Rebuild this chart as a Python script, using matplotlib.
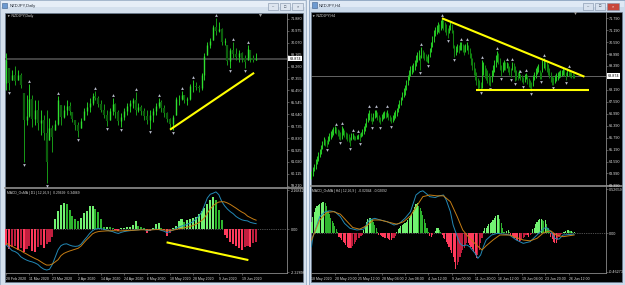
import numpy as np
import matplotlib.pyplot as plt
from matplotlib.patches import Rectangle
from matplotlib.transforms import offset_copy

plt.rcParams['font.family'] = ['Liberation Sans', 'DejaVu Sans']

# ---------------- NZDJPY, Daily (28 Feb 2020 .. 30 Jun 2020) ----------------
d1_high = [69.30, 68.17, 68.01, 68.32, 68.01, 67.79, 66.27, 66.12, 66.95, 66.12,
           65.74, 65.74, 64.98, 64.60, 64.98, 64.38, 63.85, 64.22, 66.04, 65.36,
           65.36, 65.74, 65.59, 64.83, 64.22, 64.07, 64.38, 65.13, 65.59, 65.89,
           66.27, 66.42, 66.04, 65.74, 65.44, 64.98, 65.13, 65.89, 65.51, 64.98,
           64.75, 65.13, 65.51, 65.74, 65.89, 66.35, 65.51, 65.36, 65.13, 64.98,
           64.98, 65.13, 65.51, 65.89, 65.74, 65.36, 64.83, 64.38, 64.60, 65.97,
           66.12, 66.42, 66.12, 65.97, 66.95, 67.26, 67.10, 66.88, 67.79, 69.30,
           70.14, 70.44, 71.43, 71.96, 71.65, 71.20, 70.44, 69.91, 69.68, 70.14,
           69.68, 69.53, 69.38, 69.15, 69.91, 69.53, 69.15, 69.30]
d1_low = [66.50, 66.50, 67.26, 66.88, 67.26, 66.65, 61.04, 63.85, 64.45, 63.69,
          63.85, 63.47, 63.09, 62.71, 59.45, 62.71, 61.80, 63.47, 63.85, 63.85,
          64.38, 64.60, 64.60, 64.07, 63.47, 62.94, 63.62, 64.22, 64.60, 64.83,
          65.36, 65.74, 65.21, 64.83, 64.38, 63.77, 64.22, 64.60, 64.38, 63.85,
          63.69, 64.22, 64.60, 64.83, 65.13, 64.60, 64.83, 64.60, 64.22, 63.92,
          63.54, 64.07, 64.60, 65.13, 64.83, 64.45, 64.07, 63.62, 63.47, 64.60,
          65.36, 65.74, 65.51, 65.36, 65.74, 66.35, 66.50, 66.35, 66.50, 67.26,
          69.15, 69.68, 70.29, 70.67, 70.89, 69.91, 69.91, 68.39, 68.17, 68.92,
          68.77, 68.62, 68.62, 68.17, 68.77, 68.62, 68.62, 68.77]
d1_close = [68.80, 67.00, 67.60, 67.20, 67.60, 66.90, 64.20, 64.50, 65.80, 64.30,
            65.00, 64.00, 64.20, 63.20, 61.00, 63.60, 62.90, 63.90, 65.70, 64.40,
            65.00, 65.30, 64.90, 64.30, 63.80, 63.40, 64.10, 64.90, 65.20, 65.50,
            66.00, 65.90, 65.40, 65.00, 64.60, 64.10, 64.90, 65.40, 64.80, 64.10,
            64.40, 64.90, 65.30, 65.50, 65.70, 65.00, 65.20, 64.90, 64.50, 64.20,
            64.60, 64.90, 65.30, 65.60, 65.10, 64.70, 64.30, 63.90, 64.40, 65.80,
            65.80, 66.10, 65.70, 65.80, 66.80, 66.80, 66.70, 66.60, 67.60, 69.10,
            69.90, 70.20, 71.30, 71.00, 71.10, 70.10, 70.20, 68.70, 69.50, 69.20,
            69.00, 69.30, 68.90, 68.60, 69.60, 68.90, 68.80, 68.87]
d1_first_open = 67.00
d1_frac_up = [8, 18, 31, 37, 45, 53, 61, 65, 73, 79, 84]
d1_frac_dn = [1, 6, 14, 25, 35, 40, 50, 58, 78, 83]

d1_osma = [-0.85, -1.05, -0.95, -0.90, -1.10, -1.00, -1.20, -1.05, -0.90, -1.15,
           -1.20, -0.95, -0.85, -1.00, -0.80, -0.70, -0.40, 0.54, 1.01, 1.30,
           1.42, 1.35, 1.05, 0.72, 0.56, 0.45, 0.62, 0.90, 0.98, 1.26,
           1.28, 1.12, 0.95, 0.55, 0.11, 0.14, 0.11, 0.08, -0.05, -0.08,
           0.05, 0.06, 0.14, 0.14, 0.23, 0.45, 0.20, 0.11, 0.05, -0.22,
           -0.08, 0.05, 0.30, 0.32, 0.08, -0.05, -0.36, -0.20, 0.05, 0.20,
           0.47, 0.54, 0.41, 0.50, 0.54, 0.62, 0.68, 0.86, 0.99, 1.17,
           1.40, 1.60, 1.73, 1.58, 1.04, 0.50, -0.31, -0.49, -0.67, -0.80,
           -0.90, -1.00, -1.12, -0.94, -0.88, -0.94, -0.76, -0.70]
d1_macd = [-0.85, -1.00, -1.15, -1.20, -1.30, -1.48, -1.58, -1.66, -1.72, -1.76,
           -1.82, -1.90, -2.05, -2.15, -2.20, -2.16, -1.90, -1.50, -1.10, -0.88,
           -0.80, -0.78, -0.85, -0.90, -0.92, -0.90, -0.80, -0.60, -0.42, -0.22,
           -0.07, 0.02, 0.05, 0.04, 0.00, -0.04, -0.08, -0.12, -0.18, -0.22,
           -0.16, -0.12, -0.09, -0.07, -0.05, -0.03, -0.02, 0.00, 0.00, -0.07,
           -0.04, 0.00, 0.02, 0.00, -0.05, -0.10, -0.18, -0.10, -0.04, 0.05,
           0.12, 0.18, 0.22, 0.28, 0.34, 0.42, 0.55, 0.72, 0.92, 1.30,
           1.70, 1.90, 1.96, 2.03, 1.88, 1.52, 1.28, 1.10, 0.96, 0.85,
           0.70, 0.60, 0.52, 0.48, 0.46, 0.38, 0.34, 0.31]
d1_signal = [-0.76, -0.84, -0.92, -1.00, -1.08, -1.15, -1.25, -1.33, -1.42, -1.50,
             -1.58, -1.65, -1.75, -1.85, -1.93, -1.93, -1.87, -1.76, -1.64, -1.42,
             -1.30, -1.23, -1.17, -1.12, -1.07, -1.02, -0.90, -0.72, -0.55, -0.40,
             -0.24, -0.16, -0.12, -0.10, -0.09, -0.08, -0.08, -0.07, -0.07, -0.08,
             -0.08, -0.07, -0.06, -0.05, -0.05, -0.04, -0.03, -0.02, -0.02, -0.03,
             -0.03, -0.02, -0.01, -0.01, -0.02, -0.03, -0.05, -0.05, -0.04, -0.01,
             0.03, 0.06, 0.09, 0.12, 0.16, 0.21, 0.28, 0.36, 0.48, 0.62,
             0.88, 1.10, 1.28, 1.40, 1.48, 1.50, 1.49, 1.43, 1.35, 1.25,
             1.15, 1.04, 0.94, 0.86, 0.72, 0.64, 0.56, 0.50]

d1_dates = ['28 Feb 2020', '11 Mar 2020', '23 Mar 2020', '2 Apr 2020', '14 Apr 2020',
            '24 Apr 2020', '6 May 2020', '18 May 2020', '28 May 2020', '9 Jun 2020',
            '19 Jun 2020']
d1_date_pos = [0, 8, 16, 25, 33, 41, 49, 57, 65, 74, 82]
d1_price_ticks = [71.880, 70.975, 70.070, 69.165, 68.260, 67.355, 66.450, 65.545,
                  64.640, 63.735, 62.830, 61.925, 61.020, 60.115, 59.210]
d1_osma_ticks = [2.12, 0.0, -2.31]
d1_osma_labels = ['2.16842', '0.00', '-2.22896']
# user drawn yellow trend lines (bar index, value)
d1_trend_x = [57.0, 86.3]
d1_trend_y = [63.47, 67.79]
d1_osma_trend_x = [55.8, 84.3]
d1_osma_trend_y = [-0.70, -1.66]

# ---------------- NZDJPY, H4 (18 May 2020 .. 30 Jun 2020) ----------------
h4_high = [64.10, 64.30, 64.45, 64.70, 64.85, 65.05, 65.20, 65.40, 65.60, 65.80, 65.70, 65.65,
           65.85, 66.00, 66.10, 66.20, 66.30, 66.35, 66.30, 66.20, 66.15, 66.05, 66.35, 66.25,
           66.15, 66.05, 66.00, 65.95, 65.80, 66.00, 66.00, 65.90, 65.85, 65.90, 65.95, 66.00,
           66.05, 66.20, 66.35, 66.50, 66.80, 67.05, 67.20, 67.05, 66.85, 67.05, 67.20, 67.20,
           67.10, 66.95, 66.85, 67.00, 67.10, 67.15, 67.10, 67.20, 67.05, 66.95, 66.85, 66.95,
           67.10, 67.20, 67.30, 67.50, 67.70, 67.85, 68.10, 68.30, 68.45, 68.70, 68.95, 69.20,
           69.40, 69.45, 69.55, 69.70, 69.95, 70.10, 70.20, 69.95, 70.35, 70.20, 70.10, 70.00,
           69.90, 70.00, 70.30, 70.60, 70.90, 71.20, 71.35, 71.45, 71.60, 71.50, 71.70, 71.80,
           71.70, 71.60, 71.50, 71.30, 71.45, 71.60, 71.50, 71.20, 70.45, 70.40, 70.50, 70.45,
           70.60, 70.60, 70.50, 70.45, 70.50, 70.60, 70.45, 70.30, 70.05, 69.80, 69.60, 69.30,
           69.10, 68.80, 68.70, 68.60, 69.70, 69.60, 69.45, 69.30, 69.20, 69.05, 68.90, 69.20,
           69.45, 69.70, 69.95, 70.15, 70.05, 69.80, 69.45, 69.60, 69.70, 69.60, 69.60, 69.55,
           69.40, 69.30, 69.60, 69.55, 69.40, 69.20, 69.10, 69.20, 69.00, 68.95, 68.85, 69.00,
           69.05, 68.95, 68.80, 68.70, 68.60, 68.95, 69.10, 69.30, 69.40, 69.50, 69.20, 69.10,
           69.70, 69.80, 69.70, 69.60, 69.50, 69.30, 69.10, 68.90, 68.85, 68.95, 69.05, 69.10,
           69.15, 69.20, 69.20, 69.30, 69.25, 69.10, 69.30, 69.25, 69.15, 69.10, 69.05, 69.00]
h4_low = [63.70, 63.85, 64.10, 64.20, 64.45, 64.60, 64.80, 64.95, 65.20, 65.40, 65.35, 65.30,
          65.45, 65.60, 65.70, 65.80, 65.90, 66.00, 65.95, 65.85, 65.70, 65.65, 65.70, 65.90,
          65.80, 65.70, 65.60, 65.55, 65.35, 65.65, 65.70, 65.65, 65.65, 65.72, 65.72, 65.62,
          65.80, 65.85, 65.95, 66.10, 66.30, 66.55, 66.70, 66.60, 66.45, 66.60, 66.80, 66.85,
          66.70, 66.55, 66.45, 66.60, 66.75, 66.80, 66.80, 66.85, 66.70, 66.60, 66.50, 66.55,
          66.70, 66.80, 66.90, 67.10, 67.30, 67.45, 67.70, 67.85, 67.95, 68.20, 68.45, 68.70,
          68.90, 69.00, 69.10, 69.20, 69.40, 69.60, 69.70, 69.20, 69.80, 69.80, 69.70, 69.65,
          69.60, 69.55, 69.85, 70.10, 70.35, 70.60, 70.90, 71.00, 71.10, 71.05, 71.20, 71.30,
          71.20, 71.10, 70.95, 70.80, 71.05, 71.20, 71.05, 70.30, 69.85, 69.95, 70.10, 70.05,
          70.20, 70.20, 70.10, 69.95, 70.10, 70.20, 70.00, 69.80, 69.45, 69.20, 68.95, 68.70,
          68.45, 68.25, 68.30, 68.20, 68.30, 68.95, 68.80, 68.70, 68.55, 68.45, 68.40, 68.60,
          68.90, 69.10, 69.35, 69.60, 69.50, 69.20, 68.90, 69.10, 69.20, 69.20, 69.30, 69.10,
          68.92, 68.85, 69.20, 69.10, 68.65, 68.70, 68.68, 68.80, 68.70, 68.60, 68.50, 68.60,
          68.75, 68.50, 68.35, 68.30, 68.15, 68.40, 68.70, 68.80, 69.00, 69.10, 68.75, 68.75,
          69.10, 69.30, 69.20, 69.10, 68.95, 68.80, 68.60, 68.45, 68.45, 68.55, 68.65, 68.70,
          68.80, 68.85, 68.90, 68.95, 68.90, 68.70, 68.90, 68.90, 68.85, 68.80, 68.80, 68.80]
h4_frac_up = [18, 22, 30, 34, 42, 47, 55, 80, 95, 109, 113, 124, 135, 142, 146, 152, 156, 169, 187]
h4_frac_dn = [11, 21, 28, 35, 44, 50, 58, 79, 85, 99, 104, 123, 130, 138, 145, 148, 154, 160,
              167, 176, 185]

h4_osma = [0.14, 0.20, 0.26, 0.30, 0.33, 0.34, 0.35, 0.37, 0.38, 0.38, 0.36, 0.33,
           0.27, 0.23, 0.18, 0.15, 0.12, 0.09, 0.05, 0.02, -0.04, -0.06, -0.08, -0.10,
           -0.12, -0.14, -0.16, -0.18, -0.18, -0.17, -0.15, -0.13, -0.10, -0.08, -0.06, -0.05,
           -0.03, -0.02, 0.04, 0.09, 0.14, 0.17, 0.18, 0.19, 0.17, 0.14, 0.10, 0.06,
           0.02, -0.02, -0.02, -0.03, -0.04, -0.05, -0.06, -0.06, -0.07, -0.08, -0.08, -0.06,
           -0.05, -0.03, 0.02, 0.05, 0.07, 0.09, 0.10, 0.11, 0.13, 0.14, 0.16, 0.18,
           0.21, 0.23, 0.28, 0.32, 0.35, 0.36, 0.33, 0.30, 0.27, 0.22, 0.17, 0.12,
           0.07, 0.02, -0.03, -0.04, -0.02, 0.01, 0.03, 0.06, 0.06, 0.04, 0.02, -0.02,
           -0.05, -0.07, -0.10, -0.13, -0.16, -0.20, -0.23, -0.28, -0.34, -0.43, -0.38, -0.34,
           -0.28, -0.24, -0.20, -0.17, -0.14, -0.12, -0.12, -0.14, -0.16, -0.19, -0.22, -0.26,
           -0.30, -0.26, -0.20, -0.12, -0.05, 0.03, 0.06, 0.07, 0.09, 0.11, 0.12, 0.14,
           0.16, 0.18, 0.21, 0.22, 0.22, 0.17, 0.12, 0.06, 0.02, 0.01, 0.03, 0.04,
           0.02, -0.02, -0.03, -0.05, -0.06, -0.08, -0.09, -0.10, -0.09, -0.07, -0.06, -0.04,
           -0.02, -0.02, -0.04, -0.02, -0.01, 0.05, 0.07, 0.11, 0.14, 0.16, 0.17, 0.17,
           0.16, 0.15, 0.16, 0.11, 0.06, 0.02, -0.04, -0.07, -0.10, -0.11, -0.12, -0.08,
           -0.04, -0.02, -0.01, 0.02, 0.02, 0.03, 0.04, 0.04, 0.03, 0.03, 0.02, 0.02]
# MACD main / signal read at these bars
h4_macd_idx = [0, 1, 4, 6, 10, 13, 17, 21, 24, 28, 33, 38, 42, 46, 50, 55, 60, 64, 68, 72,
               74, 76, 79, 81, 84, 86, 90, 93, 96, 98, 101, 103, 106, 108, 110, 113, 115, 119,
               121, 123, 125, 127, 131, 135, 140, 144, 149, 154, 159, 164, 169, 171, 174, 177,
               180, 183, 191]
h4_macd_val = [-0.16, -0.04, 0.10, 0.20, 0.26, 0.27, 0.26, 0.20, 0.12, 0.06, 0.04, 0.05, 0.16,
               0.18, 0.16, 0.14, 0.10, 0.12, 0.18, 0.26, 0.36, 0.46, 0.50, 0.51, 0.47, 0.44,
               0.43, 0.45, 0.46, 0.40, 0.26, 0.10, -0.04, -0.12, -0.15, -0.14, -0.16, -0.24,
               -0.30, -0.26, -0.16, -0.08, -0.02, 0.00, -0.01, -0.02, -0.08, -0.12, -0.10,
               -0.02, 0.06, 0.07, 0.02, -0.06, -0.07, -0.02, -0.01]
h4_sig_idx = [0, 3, 6, 11, 16, 21, 26, 30, 35, 40, 45, 50, 57, 62, 67, 72, 77, 81, 86, 91,
              96, 101, 106, 110, 115, 120, 124, 127, 132, 137, 144, 149, 154, 159, 164, 169,
              174, 178, 183, 191]
h4_sig_val = [-0.08, 0.04, 0.16, 0.25, 0.26, 0.23, 0.14, 0.07, 0.05, 0.09, 0.16, 0.16, 0.13,
              0.11, 0.14, 0.21, 0.34, 0.44, 0.46, 0.45, 0.45, 0.38, 0.20, 0.04, -0.06, -0.14,
              -0.20, -0.15, -0.08, -0.02, -0.02, -0.05, -0.08, -0.09, -0.06, 0.01, 0.03, -0.02,
              -0.04, -0.02]

h4_dates = ['18 May 2020', '20 May 20:00', '25 May 12:00', '28 May 04:00', '2 Jun 08:00',
            '4 Jun 12:00', '9 Jun 00:00', '11 Jun 20:00', '16 Jun 12:00', '19 Jun 04:00',
            '23 Jun 20:00', '26 Jun 12:00']
h4_date_pos = [0, 17, 34, 51, 68, 85, 102, 119, 136, 153, 170, 187]
h4_price_ticks = [71.79, 71.19, 70.59, 69.99, 69.39, 68.19, 67.59, 66.99, 66.39, 65.79,
                  65.19, 64.59, 63.99, 63.39]
h4_osma_ticks = [0.53, 0.0, -0.46]
h4_osma_labels = ['0.52659', '0.00', '-0.46273']
h4_trend_x = [94.9, 198.5]
h4_trend_y = [71.785, 68.85]
h4_base_x = [119.6, 201.8]
h4_base_y = [68.165, 68.165]

last_price = 68.874

# ---------------------------------------------------------------------------
W, H = 625, 285
fig = plt.figure(figsize=(W / 100, H / 100), dpi=100)
fig.patch.set_facecolor('#e6edf5')


def px(x0, y0, x1, y1):
    # pixel box (top-left origin) -> figure fraction
    return [x0 / W, 1 - y1 / H, (x1 - x0) / W, (y1 - y0) / H]


def chart_axes(box, xlim, ylim):
    ax = fig.add_axes(px(*box))
    ax.set_facecolor('none')
    ax.set_xlim(*xlim)
    ax.set_ylim(*ylim)
    for side in ['top', 'left', 'bottom']:
        ax.spines[side].set_visible(False)
    ax.spines['right'].set_color('#8a8a8a')
    ax.spines['right'].set_linewidth(0.6)
    ax.yaxis.tick_right()
    ax.tick_params(axis='y', length=1.5, width=0.4, color='#8a8a8a',
                   labelcolor='#dedede', labelsize=2.7, pad=1)
    ax.tick_params(axis='x', bottom=False, labelbottom=False)
    return ax


def date_axis(ax, pos, labels):
    ax.spines['bottom'].set_visible(True)
    ax.spines['bottom'].set_color('#8a8a8a')
    ax.spines['bottom'].set_linewidth(0.6)
    ax.set_xticks(pos, labels)
    ax.tick_params(axis='x', bottom=True, labelbottom=True, length=1.5, width=0.4,
                   color='#8a8a8a', labelcolor='#dedede', labelsize=2.5, pad=1.2)
    for t in ax.get_xticklabels():
        t.set_horizontalalignment('left')


def fractals(ax, up, dn, high, low):
    t_up = offset_copy(ax.transData, fig=fig, y=2.2, units='points')
    t_dn = offset_copy(ax.transData, fig=fig, y=-2.2, units='points')
    ax.plot(up, [high[i] for i in up], ls='none', marker='^', ms=2.0,
            color='#b8bccb', mew=0, transform=t_up, zorder=4)
    ax.plot(dn, [low[i] for i in dn], ls='none', marker='v', ms=2.0,
            color='#b8bccb', mew=0, transform=t_dn, zorder=4)


def osma_colors(vals):
    out, prev = [], 0.0
    for v in vals:
        if v >= 0:
            out.append('#72f272' if v >= prev else '#2fb52f')
        else:
            out.append('#ff3b5c' if v <= prev else '#c21e3e')
        prev = v
    return out


def price_box(ax, price, text):
    ax.text(1.008, price, text, transform=ax.get_yaxis_transform(), ha='left',
            va='center', fontsize=2.7, color='black',
            bbox=dict(boxstyle='square,pad=0.25', fc='white', ec='none'))


# ---------------- window chrome ----------------
bg = fig.add_axes([0, 0, 1, 1], zorder=-5)
bg.set_xlim(0, W)
bg.set_ylim(H, 0)
bg.axis('off')

bg.add_patch(Rectangle((0.3, 0.3), 305.5, 284.4, fc='#d4e0ed', ec='#9cb0c7', lw=0.6))
bg.add_patch(Rectangle((309.3, 0.3), 315.4, 284.4, fc='#cbdaeb', ec='#8aa2bf', lw=0.6))
bg.add_patch(Rectangle((1, 1), 304, 5.5, fc='#e6eef7', ec='none'))
bg.add_patch(Rectangle((310, 1), 314, 5.5, fc='#dfe9f5', ec='none'))
bg.add_patch(Rectangle((5, 13), 297.5, 269, fc='black', ec='#6b7c90', lw=0.5))
bg.add_patch(Rectangle((311, 12), 310.5, 270, fc='black', ec='#6b7c90', lw=0.5))

# title icons and captions
bg.add_patch(Rectangle((2.2, 2.5), 4.5, 5.5, fc='#6d9ad0', ec='#3d5f8c', lw=0.4))
bg.add_patch(Rectangle((312.0, 2.0), 4.5, 5.5, fc='#6d9ad0', ec='#3d5f8c', lw=0.4))
bg.text(10, 5.8, 'NZDJPY,Daily', fontsize=3.0, color='#1c2430', va='center')
bg.text(319, 5.3, 'NZDJPY,H4', fontsize=3.0, color='#1c2430', va='center')

# caption buttons
for x0, w, fc in [(268, 10, '#dde5ef'), (280, 10, '#dde5ef'), (292, 11, '#dde5ef'),
                  (583, 10, '#d7e1ee'), (595, 10, '#d7e1ee'), (607, 12, '#c8473b')]:
    top = 3 if x0 < 300 else 2.5
    bg.add_patch(Rectangle((x0, top), w, 7, fc=fc, ec='#7d8fa6', lw=0.4))
for x0, w, s in [(268, 10, '–'), (280, 10, '□'), (292, 11, '×'),
                 (583, 10, '–'), (595, 10, '□'), (607, 12, '×')]:
    top = 3 if x0 < 300 else 2.5
    bg.text(x0 + w / 2, top + 3.6, s, fontsize=2.8, ha='center', va='center',
            color='white' if x0 == 607 else '#3a4656')

# pane separators and chart-shift markers
bg.plot([5, 302.5], [188.4, 188.4], color='#8e8e8e', lw=1.2)
bg.plot([311, 621.5], [186.3, 186.3], color='#8e8e8e', lw=1.2)
bg.plot([259.5], [14.6], marker='v', ms=2.2, color='#9c9c9c', mew=0)
bg.plot([575.0], [13.4], marker='v', ms=2.2, color='#9c9c9c', mew=0)

# ---------------- Daily price pane ----------------
n1 = len(d1_close)
x1 = np.arange(n1)
hi1, lo1, cl1 = np.array(d1_high), np.array(d1_low), np.array(d1_close)
op1 = np.clip(np.concatenate([[d1_first_open], cl1[:-1]]), lo1, hi1)

ax1 = chart_axes((5, 13, 287, 187.6), (-0.5, -0.5 + 282 / 2.87), (59.07, 72.335))
ax1.set_yticks(d1_price_ticks, [f'{t:.3f}' for t in d1_price_ticks])
ax1.axhline(last_price, color='#474747', lw=1.3, zorder=1)
up1 = cl1 >= op1
ax1.vlines(x1, lo1, hi1, colors=np.where(up1, '#22c922', '#179a17'), lw=0.7, zorder=2)
ax1.vlines(x1[~up1], op1[~up1], cl1[~up1], colors='#0c5f0c', lw=1.6, zorder=3)
ax1.vlines(x1[up1], op1[up1], cl1[up1], colors='#2fe02f', lw=1.0, zorder=3)
fractals(ax1, d1_frac_up, d1_frac_dn, d1_high, d1_low)
ax1.plot(d1_trend_x, d1_trend_y, color='#ffff00', lw=1.5, solid_capstyle='butt', zorder=5)
price_box(ax1, last_price, f'{last_price:.3f}')
ax1.text(0.006, 0.992, '▼ NZDJPY,Daily', transform=ax1.transAxes, va='top',
         fontsize=2.5, color='#dcdcdc')

# ---------------- Daily MACD / OsMA pane ----------------
ax2 = chart_axes((5, 189.2, 287, 273), ax1.get_xlim(), (-2.36, 2.176))
ax2.set_yticks(d1_osma_ticks, d1_osma_labels)
ax2.axhline(0, color='#9a9a9a', lw=0.5, ls=(0, (1, 1.6)), zorder=1)
ax2.bar(x1, d1_osma, width=0.72, color=osma_colors(d1_osma), linewidth=0, zorder=2)
ax2.plot(x1, d1_macd, color='#2389b6', lw=0.7, zorder=3)
ax2.plot(x1, d1_signal, color='#c57d14', lw=0.7, zorder=3)
ax2.plot(d1_osma_trend_x, d1_osma_trend_y, color='#ffff00', lw=1.5,
         solid_capstyle='butt', zorder=5)
ax2.text(0.006, 0.975, 'MACD_OsMA | D1 | 12,26,9 |  0.29699  0.34869',
         transform=ax2.transAxes, va='top', fontsize=2.4, color='#d6d6d6')
date_axis(ax2, d1_date_pos, d1_dates)

# ---------------- H4 price pane ----------------
n4 = len(h4_high)
x4 = np.arange(n4)
hi4, lo4 = np.array(h4_high), np.array(h4_low)
mid4 = (hi4 + lo4) / 2
up4 = np.concatenate([[True], mid4[1:] >= mid4[:-1]])

ax3 = chart_axes((311, 12, 605.5, 185.6), (-0.36, -0.36 + 294.5 / 1.375), (63.38, 72.10))
ax3.set_yticks(h4_price_ticks, [f'{t:.3f}' for t in h4_price_ticks])
ax3.axhline(last_price, color='#8c8c8c', lw=0.5, zorder=1)
ax3.vlines(x4, lo4, hi4, colors=np.where(up4, '#24c524', '#10800f'), lw=0.75, zorder=2)
fractals(ax3, h4_frac_up, h4_frac_dn, h4_high, h4_low)
ax3.plot(h4_trend_x, h4_trend_y, color='#ffff00', lw=1.5, solid_capstyle='butt', zorder=5)
ax3.plot(h4_base_x, h4_base_y, color='#ffff00', lw=1.5, solid_capstyle='butt', zorder=5)
price_box(ax3, last_price, f'{last_price:.3f}')
ax3.text(0.005, 0.992, '▼ NZDJPY,H4', transform=ax3.transAxes, va='top',
         fontsize=2.5, color='#dcdcdc')

# ---------------- H4 MACD / OsMA pane ----------------
ax4 = chart_axes((311, 187, 605.5, 273), ax3.get_xlim(), (-0.476, 0.556))
ax4.set_yticks(h4_osma_ticks, h4_osma_labels)
ax4.axhline(0, color='#9a9a9a', lw=0.5, ls=(0, (1, 1.6)), zorder=1)
ax4.bar(x4, h4_osma, width=0.85, color=osma_colors(h4_osma), linewidth=0, zorder=2)
ax4.plot(h4_macd_idx, h4_macd_val, color='#2389b6', lw=0.7, zorder=3)
ax4.plot(h4_sig_idx, h4_sig_val, color='#c57d14', lw=0.7, zorder=3)
ax4.text(0.005, 0.975, 'MACD_OsMA | H4 | 12,26,9 |  -0.02044  -0.02092',
         transform=ax4.transAxes, va='top', fontsize=2.4, color='#d6d6d6')
date_axis(ax4, h4_date_pos, h4_dates)

fig.savefig('out.png', dpi=100, facecolor=fig.get_facecolor())
